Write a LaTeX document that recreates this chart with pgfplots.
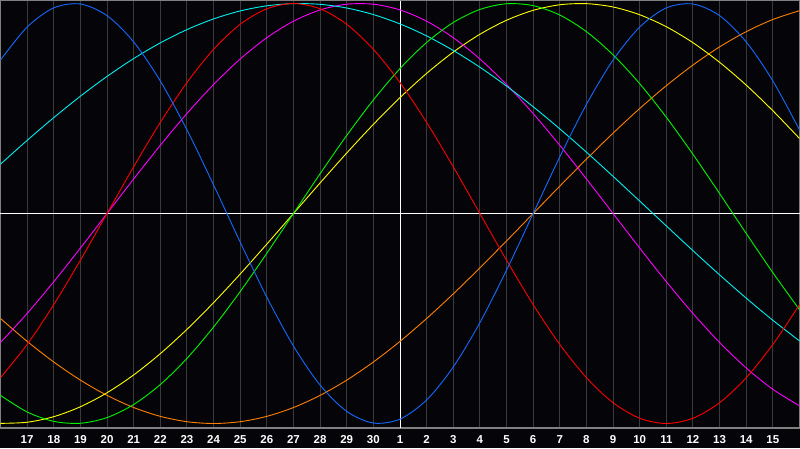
\documentclass[border=0pt]{standalone}
\usepackage{fontspec}
\setmainfont{Liberation Sans}
\usepackage{pgfplots}
\usepackage{pgfplotstable}
\pgfplotsset{compat=1.18}
\definecolor{bg}{RGB}{5,5,9}
\definecolor{gridc}{RGB}{58,58,62}
\definecolor{framec}{RGB}{128,128,128}
\definecolor{cblue}{RGB}{20,105,255}
\definecolor{ccyan}{RGB}{0,240,240}
\definecolor{cred}{RGB}{255,0,0}
\definecolor{cmag}{RGB}{255,0,255}
\definecolor{cgreen}{RGB}{0,245,0}
\definecolor{cyel}{RGB}{255,255,0}
\definecolor{corange}{RGB}{255,128,0}

\pgfplotstableread{
t blue red green magenta yellow orange cyan
-1 0.7308 -0.7818 -0.8660 -0.6142 -0.9993 -0.5000 0.2349
0 0.8879 -0.6235 -0.9450 -0.4760 -0.9940 -0.6088 0.3482
1 0.9791 -0.4339 -0.9898 -0.3247 -0.9675 -0.7071 0.4566
2 0.9977 -0.2225 -0.9989 -0.1646 -0.9203 -0.7934 0.5586
3 0.9423 0.0000 -0.9718 0.0000 -0.8536 -0.8660 0.6528
4 0.8170 0.2225 -0.9096 0.1646 -0.7687 -0.9239 0.7378
5 0.6311 0.4339 -0.8146 0.3247 -0.6673 -0.9659 0.8125
6 0.3984 0.6235 -0.6901 0.4760 -0.5518 -0.9914 0.8757
7 0.1362 0.7818 -0.5406 0.6142 -0.4245 -1.0000 0.9267
8 -0.1362 0.9010 -0.3717 0.7357 -0.2881 -0.9914 0.9646
9 -0.3984 0.9749 -0.1893 0.8372 -0.1456 -0.9659 0.9890
10 -0.6311 1.0000 0.0000 0.9158 0.0000 -0.9239 0.9996
11 -0.8170 0.9749 0.1893 0.9694 0.1456 -0.8660 0.9961
12 -0.9423 0.9010 0.3717 0.9966 0.2881 -0.7934 0.9786
13 -0.9977 0.7818 0.5406 0.9966 0.4245 -0.7071 0.9473
14 -0.9791 0.6235 0.6901 0.9694 0.5518 -0.6088 0.9028
15 -0.8879 0.4339 0.8146 0.9158 0.6673 -0.5000 0.8456
16 -0.7308 0.2225 0.9096 0.8372 0.7687 -0.3827 0.7765
17 -0.5196 0.0000 0.9718 0.7357 0.8536 -0.2588 0.6966
18 -0.2698 -0.2225 0.9989 0.6142 0.9203 -0.1305 0.6068
19 0.0000 -0.4339 0.9898 0.4760 0.9675 0.0000 0.5085
20 0.2698 -0.6235 0.9450 0.3247 0.9940 0.1305 0.4031
21 0.5196 -0.7818 0.8660 0.1646 0.9993 0.2588 0.2921
22 0.7308 -0.9010 0.7557 0.0000 0.9834 0.3827 0.1769
23 0.8879 -0.9749 0.6182 -0.1646 0.9465 0.5000 0.0592
24 0.9791 -1.0000 0.4582 -0.3247 0.8894 0.6088 -0.0592
25 0.9977 -0.9749 0.2817 -0.4760 0.8133 0.7071 -0.1769
26 0.9423 -0.9010 0.0951 -0.6142 0.7199 0.7934 -0.2921
27 0.8170 -0.7818 -0.0951 -0.7357 0.6112 0.8660 -0.4031
28 0.6311 -0.6235 -0.2817 -0.8372 0.4894 0.9239 -0.5085
29 0.3984 -0.4339 -0.4582 -0.9158 0.3572 0.9659 -0.6068
}\bio

\begin{document}
\begin{tikzpicture}[x=1pt,y=1pt]
\fill[bg] (0,-20) rectangle (800,428);
\begin{axis}[
  at={(0.5pt,0pt)}, anchor=south west,
  scale only axis, width=799pt, height=427.5pt,
  xmin=-1, xmax=29, ymin=-1.0214, ymax=1.0143,
  axis line style={draw=framec, line width=1.2pt},
  xtick={0,...,28},
  xticklabels={17,18,19,20,21,22,23,24,25,26,27,28,29,30,1,2,3,4,5,6,7,8,9,10,11,12,13,14,15},
  ytick=\empty,
  major tick length=0pt,
  xmajorgrids,
  grid style={gridc, line width=1pt},
  extra x ticks={14}, extra x tick labels={},
  extra x tick style={grid=major, grid style={white, line width=1pt}},
  extra y ticks={0}, extra y tick labels={},
  extra y tick style={grid=major, grid style={white, line width=1pt}},
  xticklabel style={font=\bfseries\fontsize{11.5}{12}\selectfont, text=white, anchor=base, yshift=-15pt},
  every axis plot/.append style={line width=0.9pt, smooth, no markers},
]
\addplot[corange] table[x=t,y=orange] {\bio};
\addplot[cyel] table[x=t,y=yellow] {\bio};
\addplot[cmag] table[x=t,y=magenta] {\bio};
\addplot[ccyan] table[x=t,y=cyan] {\bio};
\addplot[cgreen] table[x=t,y=green] {\bio};
\addplot[cred] table[x=t,y=red] {\bio};
\addplot[cblue] table[x=t,y=blue] {\bio};
\end{axis}
\pgfresetboundingbox
\path[use as bounding box] (0,-20) rectangle (800,428);
\end{tikzpicture}
\end{document}
